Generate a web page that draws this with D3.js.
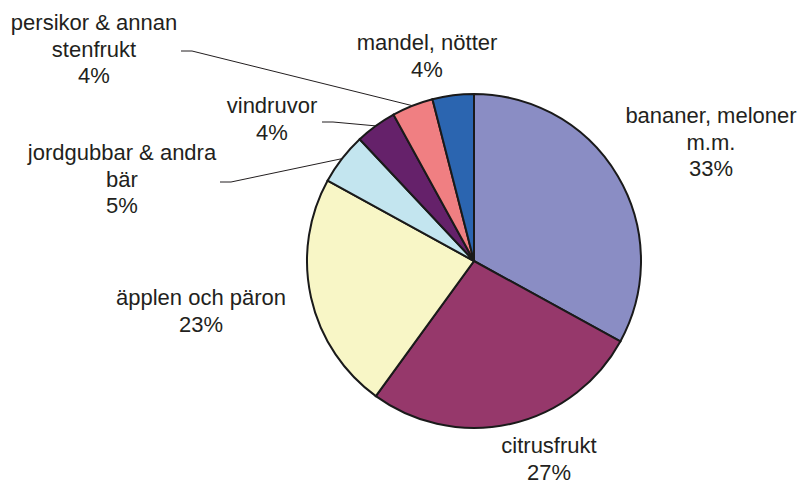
<!DOCTYPE html>
<meta charset="utf-8">
<style type="text/css">
    body { margin: 0; background: #fff; }
    .slice { stroke: #1a1a1a; stroke-width: 2; }
    .lbl { font-family: "Liberation Sans", Arial, sans-serif; font-size: 22px; fill: #231f20; }
    .leader { fill: none; stroke: #231f20; stroke-width: 1; }
</style>
<body>
</body>
<script src="https://d3js.org/d3.v7.min.js"></script>
<script>
    // data, clockwise from 12 o'clock
    var names = ["bananer, meloner m.m.", "citrusfrukt", "äpplen och päron",
                 "jordgubbar & andra bär", "vindruvor", "persikor & annan stenfrukt", "mandel, nötter"];
    var values = [33, 27, 23, 5, 4, 4, 4];
    var colors = ["#8a8dc4", "#96386b", "#f8f6c6", "#c3e5ef", "#65216a", "#f07f82", "#2b65b0"];

    // label text lines and where each label block sits (first baseline)
    var labelLines = [
        ["bananer, meloner", "m.m."],
        ["citrusfrukt"],
        ["äpplen och päron"],
        ["jordgubbar & andra", "bär"],
        ["vindruvor"],
        ["persikor & annan", "stenfrukt"],
        ["mandel, nötter"]
    ];
    var labelPos = [[711, 123], [549, 453], [201, 305], [122, 160], [272, 113], [94, 30], [427, 50]];
    // leader lines: start point of the horizontal stub, or null
    var leaderStart = [null, null, null, [220, 182], [322, 122], [181, 51], null];

    var width = 802, height = 485;
    var cx = 474, cy = 261, radius = 167;

    var svg = d3.select("body").append("svg")
        .attr("width", width)
        .attr("height", height);

    var pie = d3.pie().sort(null).value(function(d) { return d; });
    var arcs = pie(values);
    var arc = d3.arc().innerRadius(0).outerRadius(radius);

    var g = svg.append("g").attr("transform", "translate(" + cx + "," + cy + ")");

    g.selectAll(".slice")
        .data(arcs)
        .enter().append("path")
        .attr("class", "slice")
        .attr("fill", function(d, i) { return colors[i]; })
        .attr("d", arc);

    // leader lines
    arcs.forEach(function(d, i) {
        if (!leaderStart[i]) return;
        var mid = (d.startAngle + d.endAngle) / 2;
        var ex = cx + radius * Math.sin(mid), ey = cy - radius * Math.cos(mid);
        var s = leaderStart[i];
        svg.append("path")
            .attr("class", "leader")
            .attr("d", "M" + s[0] + "," + s[1] + "L" + (s[0] + 11) + "," + s[1] + "L" + ex + "," + ey);
    });

    // labels
    var lineH = 26.5;
    arcs.forEach(function(d, i) {
        var lines = labelLines[i].concat([values[i] + "%"]);
        var t = svg.append("text")
            .attr("class", "lbl")
            .attr("text-anchor", "middle")
            .attr("x", labelPos[i][0])
            .attr("y", labelPos[i][1]);
        lines.forEach(function(l, k) {
            t.append("tspan")
                .attr("x", labelPos[i][0])
                .attr("y", labelPos[i][1] + k * lineH)
                .text(l);
        });
    });
</script>
